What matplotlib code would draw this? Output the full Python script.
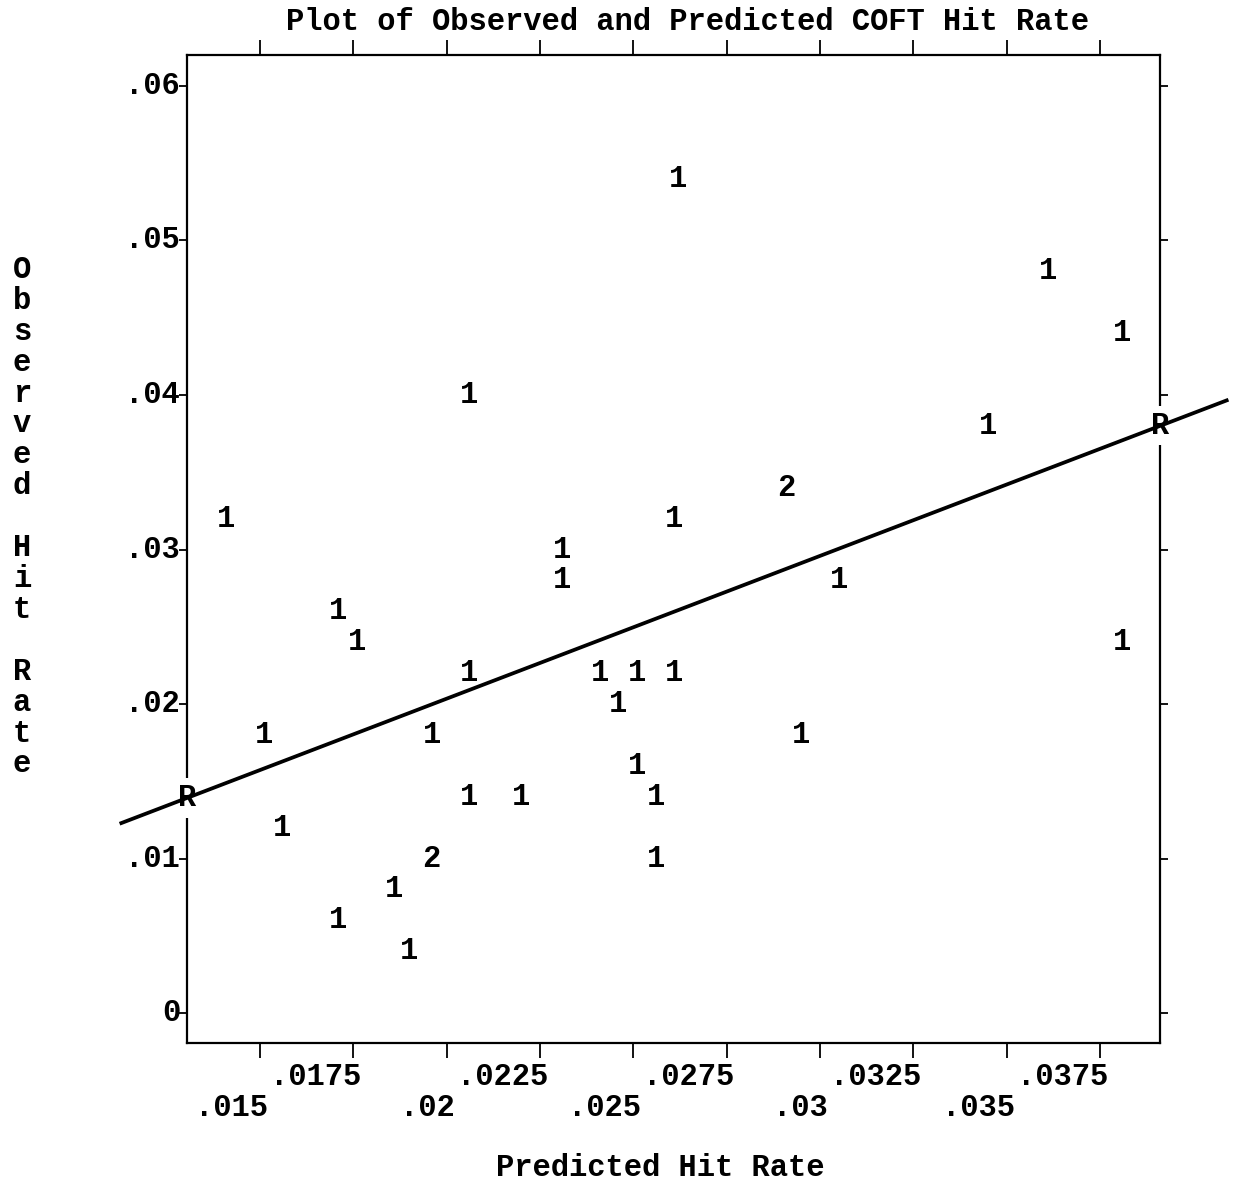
import matplotlib
matplotlib.use("Agg")
import matplotlib.pyplot as plt
import matplotlib.transforms as mtransforms
import numpy as np

plt.rcParams['font.family'] = ['Liberation Mono', 'DejaVu Sans Mono']

# ---- data ----
pred = [0.0262, 0.0361, 0.0381, 0.0206, 0.0345, 0.0291, 0.0141, 0.0261,
        0.0231, 0.0231, 0.0305, 0.0171, 0.0176, 0.0381, 0.0206, 0.0241,
        0.0251, 0.0261, 0.0246, 0.0151, 0.0196, 0.0295, 0.0251, 0.0206,
        0.0220, 0.0256, 0.0156, 0.0196, 0.0256, 0.0186, 0.0171, 0.0190]
obs = [0.054, 0.048, 0.044, 0.040, 0.038, 0.034, 0.032, 0.032,
       0.030, 0.028, 0.028, 0.026, 0.024, 0.024, 0.022, 0.022,
       0.022, 0.022, 0.020, 0.018, 0.018, 0.018, 0.016, 0.014,
       0.014, 0.014, 0.012, 0.010, 0.010, 0.008, 0.006, 0.004]
counts = ['1', '1', '1', '1', '1', '2', '1', '1',
          '1', '1', '1', '1', '1', '1', '1', '1',
          '1', '1', '1', '1', '1', '1', '1', '1',
          '1', '1', '1', '2', '1', '1', '1', '1']

reg_intercept = 0.001866
reg_slope = 0.924
reg_x_range = [0.01124, 0.04094]

x_ticks = [0.015, 0.0175, 0.02, 0.0225, 0.025, 0.0275, 0.03, 0.0325, 0.035, 0.0375]
x_tick_labels = ['.015', '.0175', '.02', '.0225', '.025', '.0275', '.03', '.0325', '.035', '.0375']
y_ticks = [0, 0.01, 0.02, 0.03, 0.04, 0.05, 0.06]
y_tick_labels = ['0', '.01', '.02', '.03', '.04', '.05', '.06']

title = 'Plot of Observed and Predicted COFT Hit Rate'
xlabel = 'Predicted Hit Rate'
ylabel = 'Observed Hit Rate'

# ---- figure ----
W, H = 1235, 1185
fig = plt.figure(figsize=(W / 100, H / 100), dpi=100)
L, R, T, B = 187, 1160, 55, 1043
ax = fig.add_axes([L / W, 1 - B / H, (R - L) / W, (B - T) / H])
ax.set_xlim(0.013045, 0.039107)
ax.set_ylim(-0.00194, 0.062006)

FS = 22
for s in ax.spines.values():
    s.set_linewidth(1.6)

# ticks on all four sides, outward
ax.set_xticks(x_ticks)
ax.set_yticks(y_ticks)
ax.tick_params(axis='x', which='both', direction='out', length=11, width=1.3,
               top=True, bottom=True, labelbottom=False, labeltop=False)
ax.tick_params(axis='y', which='both', direction='out', length=6, width=1.3,
               left=True, right=True, labelleft=False, labelright=False)

# y tick labels, right-aligned against the tick
ytrans = ax.get_yaxis_transform() + mtransforms.ScaledTranslation(-5 / 72, 0, fig.dpi_scale_trans)
for v, lab in zip(y_ticks, y_tick_labels):
    ax.text(0, v, lab, transform=ytrans, ha='right', va='center',
            fontsize=FS, fontweight='bold', clip_on=False)

# x tick labels, staggered rows, right edge near the tick
for i, (v, lab) in enumerate(zip(x_ticks, x_tick_labels)):
    dy = -34 if i % 2 == 1 else -65
    tr = ax.get_xaxis_transform() + mtransforms.ScaledTranslation(8 / 100, dy / 100, fig.dpi_scale_trans)
    ax.text(v, 0, lab, transform=tr, ha='right', va='center',
            fontsize=FS, fontweight='bold', clip_on=False)

# regression line
rx = np.array(reg_x_range)
ry = reg_intercept + reg_slope * rx
ax.plot(rx, ry, color='black', lw=2.7, clip_on=False, zorder=4, solid_capstyle='butt')

# R markers at the plot edges
x0, x1 = ax.get_xlim()
for xv in (x0, x1):
    ax.text(xv, reg_intercept + reg_slope * xv, 'R', ha='center', va='center',
            fontsize=FS, fontweight='bold', clip_on=False, zorder=3,
            bbox=dict(boxstyle='square,pad=0.15', fc='white', ec='none'))

# data symbols
for x, y, c in zip(pred, obs, counts):
    ax.text(x, y, c, ha='center', va='center', fontsize=FS, fontweight='bold', zorder=5)

# title and axis labels
fig.text(687 / W, 1 - 22 / H, title, ha='center', va='center', fontsize=FS, fontweight='bold')
fig.text(660 / W, 1 - 1168 / H, xlabel, ha='center', va='center', fontsize=FS, fontweight='bold')

# vertical stacked y label
chars = []
for word in ylabel.split(' '):
    chars.extend(list(word))
    chars.append('')
chars = chars[:-1]
y0, step = 270, 30.9
for k, ch in enumerate(chars):
    if ch:
        fig.text(22 / W, 1 - (y0 + k * step) / H, ch, ha='center', va='center',
                 fontsize=FS, fontweight='bold')

fig.savefig('out.png', dpi=100, facecolor='white')
